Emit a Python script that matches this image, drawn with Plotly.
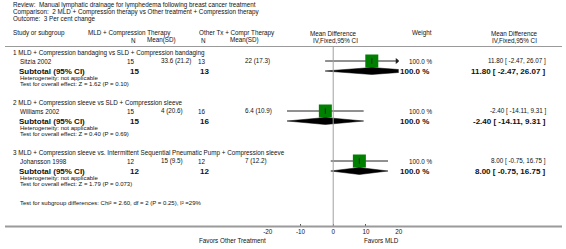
import plotly.graph_objects as go

# ---------------- data ----------------
title_lines = [
    "Review:  Manual lymphatic drainage for lymphedema following breast cancer treatment",
    "Comparison:  2 MLD + Compression therapy vs Other treatment + Compression therapy",
    "Outcome:  3 Per cent change",
]
group_labels = [
    "1 MLD + Compression bandaging vs SLD + Compression bandaging",
    "2 MLD + Compression sleeve vs SLD + Compression sleeve",
    "3 MLD + Compression sleeve vs. Intermittent Sequential Pneumatic Pump + Compression sleeve",
]
studies = ["Sitzia 2002", "Williams 2002", "Johansson 1998"]
n_treat = [15, 15, 12]
msd_treat = ["33.6 (21.2)", "4 (20.6)", "15 (9.5)"]
n_ctrl = [13, 16, 12]
msd_ctrl = ["22 (17.3)", "6.4 (10.9)", "7 (12.2)"]
md = [11.80, -2.40, 8.00]
ci_lo = [-2.47, -14.11, -0.75]
ci_hi = [26.07, 9.31, 16.75]
weights = [100.0, 100.0, 100.0]
heterogeneity = ["not applicable", "not applicable", "not applicable"]
overall_z = ["1.62 (P = 0.10)", "0.40 (P = 0.69)", "1.79 (P = 0.073)"]
subgroup_test = "Test for subgroup differences: Chi² = 2.60, df = 2 (P = 0.25), I² =29%"
x_ticks = [-20, -10, 0, 10, 20]
favors_left = "Favors Other Treatment"
favors_right = "Favors MLD"

# ---------------- layout helpers ----------------
W, H = 566, 249
X0, X1 = 267, 400          # pixel span of plot axis
XMIN, XMAX = -20, 20
FONT = "Liberation Sans, Arial, Helvetica, sans-serif"
GREEN = "#008000"
TXT = "#111111"

fig = go.Figure()
ann = []
shapes = []


def px(x):
    return x / W


def text(x, y, s, size=6, anchor="left", bold=False, color=TXT):
    if bold:
        s = "<b>" + s + "</b>"
    ann.append(dict(x=px(x), y=y, xref="paper", yref="y", text=s, showarrow=False,
                    xanchor=anchor, yanchor="middle", align=anchor,
                    font=dict(family=FONT, size=size, color=color)))


# titles
for i, t in enumerate(title_lines):
    text(6, 5 + 7 * i, t, size=6.3)

# headers
HY1, HY2 = 33, 40
text(6, HY1, "Study or subgroup", 6.3)
text(127, HY1, "MLD + Compression Therapy", 6.3, "center")
text(131, HY2, "N", 6.3, "center")
text(159, HY2, "Mean(SD)", 6.3, "center")
text(236, HY1, "Other Tx + Compr Therapy", 6.3, "center")
text(202, HY2, "N", 6.3, "center")
text(243, HY2, "Mean(SD)", 6.3, "center")
text(334, HY1, "Mean Difference", 6.3, "center")
text(336, HY2, "IV,Fixed,95% CI", 6.3, "center")
text(424, HY1, "Weight", 6.3, "center")
text(518, HY1, "Mean Difference", 6.3, "center")
text(518, HY2, "IV,Fixed,95% CI", 6.3, "center")

shapes.append(dict(type="line", xref="paper", yref="y", x0=0, x1=1, y0=46.5, y1=46.5,
                   line=dict(color="#9a9a9a", width=1)))

# groups
for g in range(len(group_labels)):
    base = 53 + 50 * g
    ys = base + 8
    yt = base + 18
    text(6, base, group_labels[g], 6.3)
    text(13, ys, studies[g], 6.3)
    text(134, ys, str(n_treat[g]), 6.3, "right")
    text(156, ys, msd_treat[g], 6.3, "left")
    text(206, ys, str(n_ctrl[g]), 6.3, "right")
    text(242, ys, msd_ctrl[g], 6.3, "left")
    text(437, ys, f"{weights[g]:.1f} %", 6.3, "right")
    text(552, ys, f"{md[g]:.2f} [ {ci_lo[g]:.2f}, {ci_hi[g]:.2f} ]", 6.3, "right")

    text(12, yt, "Subtotal (95% CI)", 8, bold=True)
    text(131.5, yt, str(n_treat[g]), 8, "center", bold=True)
    text(203, yt, str(n_ctrl[g]), 8, "center", bold=True)
    text(433, yt, f"{weights[g]:.1f} %", 8, "right", bold=True)
    text(552, yt, f"{md[g]:.2f} [ {ci_lo[g]:.2f}, {ci_hi[g]:.2f} ]", 8, "right", bold=True)
    text(13, base + 25, "Heterogeneity: " + heterogeneity[g], 6)
    text(13, base + 31, "Test for overall effect: Z = " + overall_z[g], 6)

    # CI line
    fig.add_trace(go.Scatter(x=[ci_lo[g], ci_hi[g]], y=[ys, ys], mode="lines",
                             line=dict(color="#222222", width=1), hoverinfo="skip"))
    # arrows for clipped CI
    if ci_hi[g] > XMAX:
        fig.add_trace(go.Scatter(x=[XMAX - 0.5], y=[ys], mode="markers",
                                 marker=dict(symbol="triangle-right", size=5, color="#222222"),
                                 hoverinfo="skip"))
    if ci_lo[g] < XMIN:
        fig.add_trace(go.Scatter(x=[XMIN + 0.5], y=[ys], mode="markers",
                                 marker=dict(symbol="triangle-left", size=5, color="#222222"),
                                 hoverinfo="skip"))
    # square
    fig.add_trace(go.Scatter(x=[md[g]], y=[ys], mode="markers",
                             marker=dict(symbol="square", size=13, color=GREEN,
                                         line=dict(width=0)), hoverinfo="skip"))
    fig.add_trace(go.Scatter(x=[md[g]], y=[ys], mode="markers",
                             marker=dict(symbol="line-ns", size=4, color="#222222",
                                         line=dict(width=1, color="#222222")), hoverinfo="skip"))
    # diamond
    hd = 3.5
    fig.add_trace(go.Scatter(x=[ci_lo[g], md[g], ci_hi[g], md[g], ci_lo[g]],
                             y=[yt, yt - hd, yt, yt + hd, yt], mode="lines", fill="toself",
                             fillcolor="black", line=dict(color="black", width=0.5),
                             hoverinfo="skip"))

text(13, 203, subgroup_test, 6)

# zero line
shapes.append(dict(type="line", xref="x", yref="y", x0=0, x1=0, y0=47, y1=226,
                   line=dict(color="#a0a0a0", width=1)))
# bottom axis line across width
AXY = 226.5
shapes.append(dict(type="line", xref="paper", yref="y", x0=0, x1=1, y0=AXY, y1=AXY,
                   line=dict(color="#9a9a9a", width=2)))

text(267, 240, favors_left, 6.3, "right")
text(383, 240, favors_right, 6.3, "center")

fig.update_layout(
    width=W, height=H, margin=dict(l=0, r=0, t=0, b=0),
    paper_bgcolor="white", plot_bgcolor="rgba(0,0,0,0)",
    showlegend=False, annotations=ann, shapes=shapes,
    xaxis=dict(domain=[px(X0), px(X1)], range=[XMIN, XMAX], tickvals=x_ticks,
               ticktext=[str(v) for v in x_ticks], showgrid=False, zeroline=False,
               showline=False, ticks="inside", ticklen=3, tickcolor="#555555",
               tickfont=dict(family=FONT, size=6.3, color=TXT),
               anchor="free", position=(H - AXY) / H, fixedrange=True),
    yaxis=dict(range=[H, 0], domain=[0, 1], visible=False, fixedrange=True),
)

fig.write_html("out.html", config={"displayModeBar": False},
               post_script="document.body.style.margin='0';document.body.style.overflow='hidden';")
